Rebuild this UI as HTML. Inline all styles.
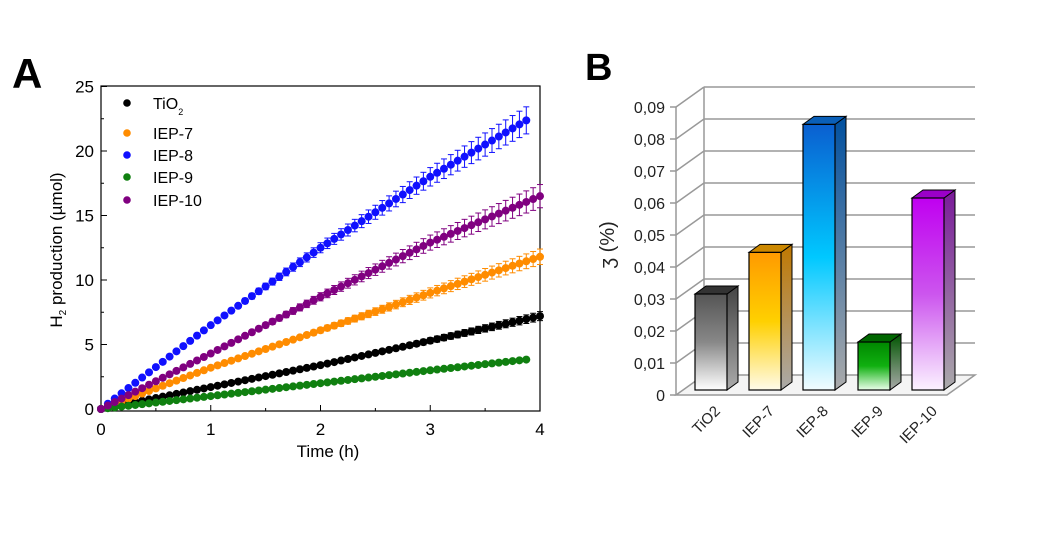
<!DOCTYPE html>
<html><head><meta charset="utf-8">
<style>
html,body{margin:0;padding:0;background:#fff;}
svg{display:block;font-family:"Liberation Sans",Arial,sans-serif;}
</style></head>
<body>
<svg id="s" width="1060" height="540" viewBox="0 0 1060 540" xmlns="http://www.w3.org/2000/svg">
<defs>
<linearGradient id="g0" x1="0" y1="0" x2="0" y2="1"><stop offset="0" stop-color="#555"/><stop offset="0.5" stop-color="#888"/><stop offset="1" stop-color="#fff"/></linearGradient>
<linearGradient id="g1" x1="0" y1="0" x2="0" y2="1"><stop offset="0" stop-color="#ff9a00"/><stop offset="0.5" stop-color="#ffd000"/><stop offset="1" stop-color="#fffbea"/></linearGradient>
<linearGradient id="g2" x1="0" y1="0" x2="0" y2="1"><stop offset="0" stop-color="#0a5fd0"/><stop offset="0.5" stop-color="#00c8ff"/><stop offset="1" stop-color="#f2fcff"/></linearGradient>
<linearGradient id="g3" x1="0" y1="0" x2="0" y2="1"><stop offset="0" stop-color="#008800"/><stop offset="0.5" stop-color="#10b010"/><stop offset="1" stop-color="#eaffea"/></linearGradient>
<linearGradient id="g4" x1="0" y1="0" x2="0" y2="1"><stop offset="0" stop-color="#c000f0"/><stop offset="0.5" stop-color="#cc55ee"/><stop offset="1" stop-color="#fbf2ff"/></linearGradient>
</defs>
<text x="12" y="88" font-size="42" font-weight="bold">A</text>
<text x="585" y="80" font-size="38" font-weight="bold">B</text>
<g id="A"></g>
<g id="B"></g>
</svg>
<script>
var NS="http://www.w3.org/2000/svg";
function el(p,t,a,txt){var e=document.createElementNS(NS,t);for(var k in a)e.setAttribute(k,a[k]);if(txt!=null)e.textContent=txt;p.appendChild(e);return e;}
var A=document.getElementById("A");
var X0=101,X1=540,Y0=409,TOP=86,BOT=411;
function px(t){return X0+t*109.75;} function py(v){return Y0-v*12.9;}
el(A,"rect",{x:X0,y:TOP,width:X1-X0,height:BOT-TOP,fill:"none",stroke:"#000","stroke-width":1.2});
for(var i=0;i<=8;i++){var x=X0+i*54.875;el(A,"line",{x1:x,x2:x,y1:BOT,y2:BOT-(i%2?3:6),stroke:"#000"});}
for(var i=0;i<=10;i++){var y=py(i*2.5);if(y<TOP)continue;el(A,"line",{x1:X0,x2:X0+(i%2?3:6),y1:y,y2:y,stroke:"#000"});}
for(var i=0;i<=4;i++)el(A,"text",{x:px(i),y:435,"font-size":17,"text-anchor":"middle"},i);
for(var i=0;i<=5;i++)el(A,"text",{x:94,y:py(i*5)+6,"font-size":17,"text-anchor":"end"},i*5);
el(A,"text",{x:328,y:457,"font-size":17,"text-anchor":"middle"},"Time (h)");
var yl=el(A,"text",{transform:"translate(62,250) rotate(-90)","font-size":17,"text-anchor":"middle"});
yl.innerHTML='H<tspan font-size="10" dy="4">2</tspan><tspan dy="-4"> production (</tspan><tspan>µ</tspan>mol)';
var S=[["#000",[0,1.7,3.4,5.3,7.2],0.35,4],["#ff8c00",[0,3.2,6.1,9.0,11.8],0.6,4],["#1010ff",[0,6.5,12.5,18.0,23.0],1.1,3.92],["#108010",[0,1.0,2.0,3.0,3.95],0.12,3.93],["#800080",[0,4.3,8.7,12.9,16.5],0.9,4]];
S.forEach(function(s){
 for(var k=0;k<=64;k++){var t=k*0.0625;if(t>s[3]+0.001)break;
  var i=Math.min(3,Math.floor(t)),f=t-i,v=s[1][i]+(s[1][i+1]-s[1][i])*f;
  var e=s[2]*Math.pow(t,1.5)/8;var x=px(t),y=py(v);
  if(e>0.2){el(A,"line",{x1:x,x2:x,y1:py(v+e),y2:py(v-e),stroke:s[0],"stroke-width":1});
   el(A,"line",{x1:x-3,x2:x+3,y1:py(v+e),y2:py(v+e),stroke:s[0]});el(A,"line",{x1:x-3,x2:x+3,y1:py(v-e),y2:py(v-e),stroke:s[0]});}
  el(A,"circle",{cx:x,cy:y,r:4,fill:s[0]});}
});
var L=[["TiO","#000",103],["IEP-7","#ff8c00",133],["IEP-8","#1010ff",155],["IEP-9","#108010",177],["IEP-10","#800080",200]];
L.forEach(function(l){el(A,"circle",{cx:127,cy:l[2],r:3.8,fill:l[1]});var t=el(A,"text",{x:153,y:l[2]+6,"font-size":16},l[0]);
 if(l[0]=="TiO"){el(t,"tspan",{"font-size":9,dy:6},"2");}});
// B
var B=document.getElementById("B");
var FX=676,FY=395,DX=28,DY=-20,BR=975;
function vy(v){return 390-v*3200;}
for(var i=1;i<=9;i++){var y=FY-i*32;
 el(B,"line",{x1:FX,y1:y,x2:FX+DX,y2:y+DY,stroke:"#999","stroke-width":1.5});
 el(B,"line",{x1:FX+DX,y1:y+DY,x2:BR,y2:y+DY,stroke:"#999","stroke-width":1.5});}
el(B,"line",{x1:FX+DX,y1:FY+DY,x2:FX+DX,y2:FY-9*32+DY,stroke:"#999","stroke-width":1.5});
el(B,"line",{x1:FX,y1:FY,x2:FX,y2:FY-9*32,stroke:"#999","stroke-width":1.5});
el(B,"polygon",{points:[FX,FY,FX+DX,FY+DY,BR,FY+DY,947,FY].join(" "),fill:"#f4f4f4",stroke:"#999","stroke-width":1.5});
for(var i=0;i<=9;i++){var y=FY-i*32;el(B,"line",{x1:FX-6,x2:FX,y1:y,y2:y,stroke:"#999","stroke-width":1.5});
 el(B,"text",{x:665,y:y+6,"font-size":16,"text-anchor":"end",fill:"#222"},i==0?"0":"0,0"+i);}
el(B,"text",{transform:"translate(614,245) rotate(-90)","font-size":20,"text-anchor":"middle",fill:"#222"},"ʒ (%)");
var bars=[[695,0.030,"g0","#444","#333","TiO2"],[749,0.043,"g1","#c07800","#cc8800","IEP-7"],[803,0.083,"g2","#0050a0","#0a5fb8","IEP-8"],[858,0.015,"g3","#005500","#006600","IEP-9"],[912,0.060,"g4","#7a1a9a","#9a00c8","IEP-10"]];
bars.forEach(function(b){var x=b[0],w=32,t=vy(b[1]),d=11,e=-8;
 var sg=document.createElementNS(NS,"linearGradient");sg.id="s"+b[2];sg.setAttribute("x1",0);sg.setAttribute("y1",0);sg.setAttribute("x2",0);sg.setAttribute("y2",1);
 el(sg,"stop",{offset:0,"stop-color":b[3]});el(sg,"stop",{offset:1,"stop-color":"#aaa"});document.querySelector("defs").appendChild(sg);
 el(B,"polygon",{points:[x+w,t,x+w+d,t+e,x+w+d,390+e,x+w,390].join(" "),fill:"url(#s"+b[2]+")",stroke:"#000","stroke-width":1});
 el(B,"polygon",{points:[x,t,x+d,t+e,x+w+d,t+e,x+w,t].join(" "),fill:b[4],stroke:"#000","stroke-width":1});
 el(B,"rect",{x:x,y:t,width:w,height:390-t,fill:"url(#"+b[2]+")",stroke:"#000","stroke-width":1.2});
 el(B,"text",{transform:"translate("+(x+26)+",412) rotate(-45)","font-size":15,"text-anchor":"end",fill:"#222"},b[5]);
});
</script>
</body></html>
